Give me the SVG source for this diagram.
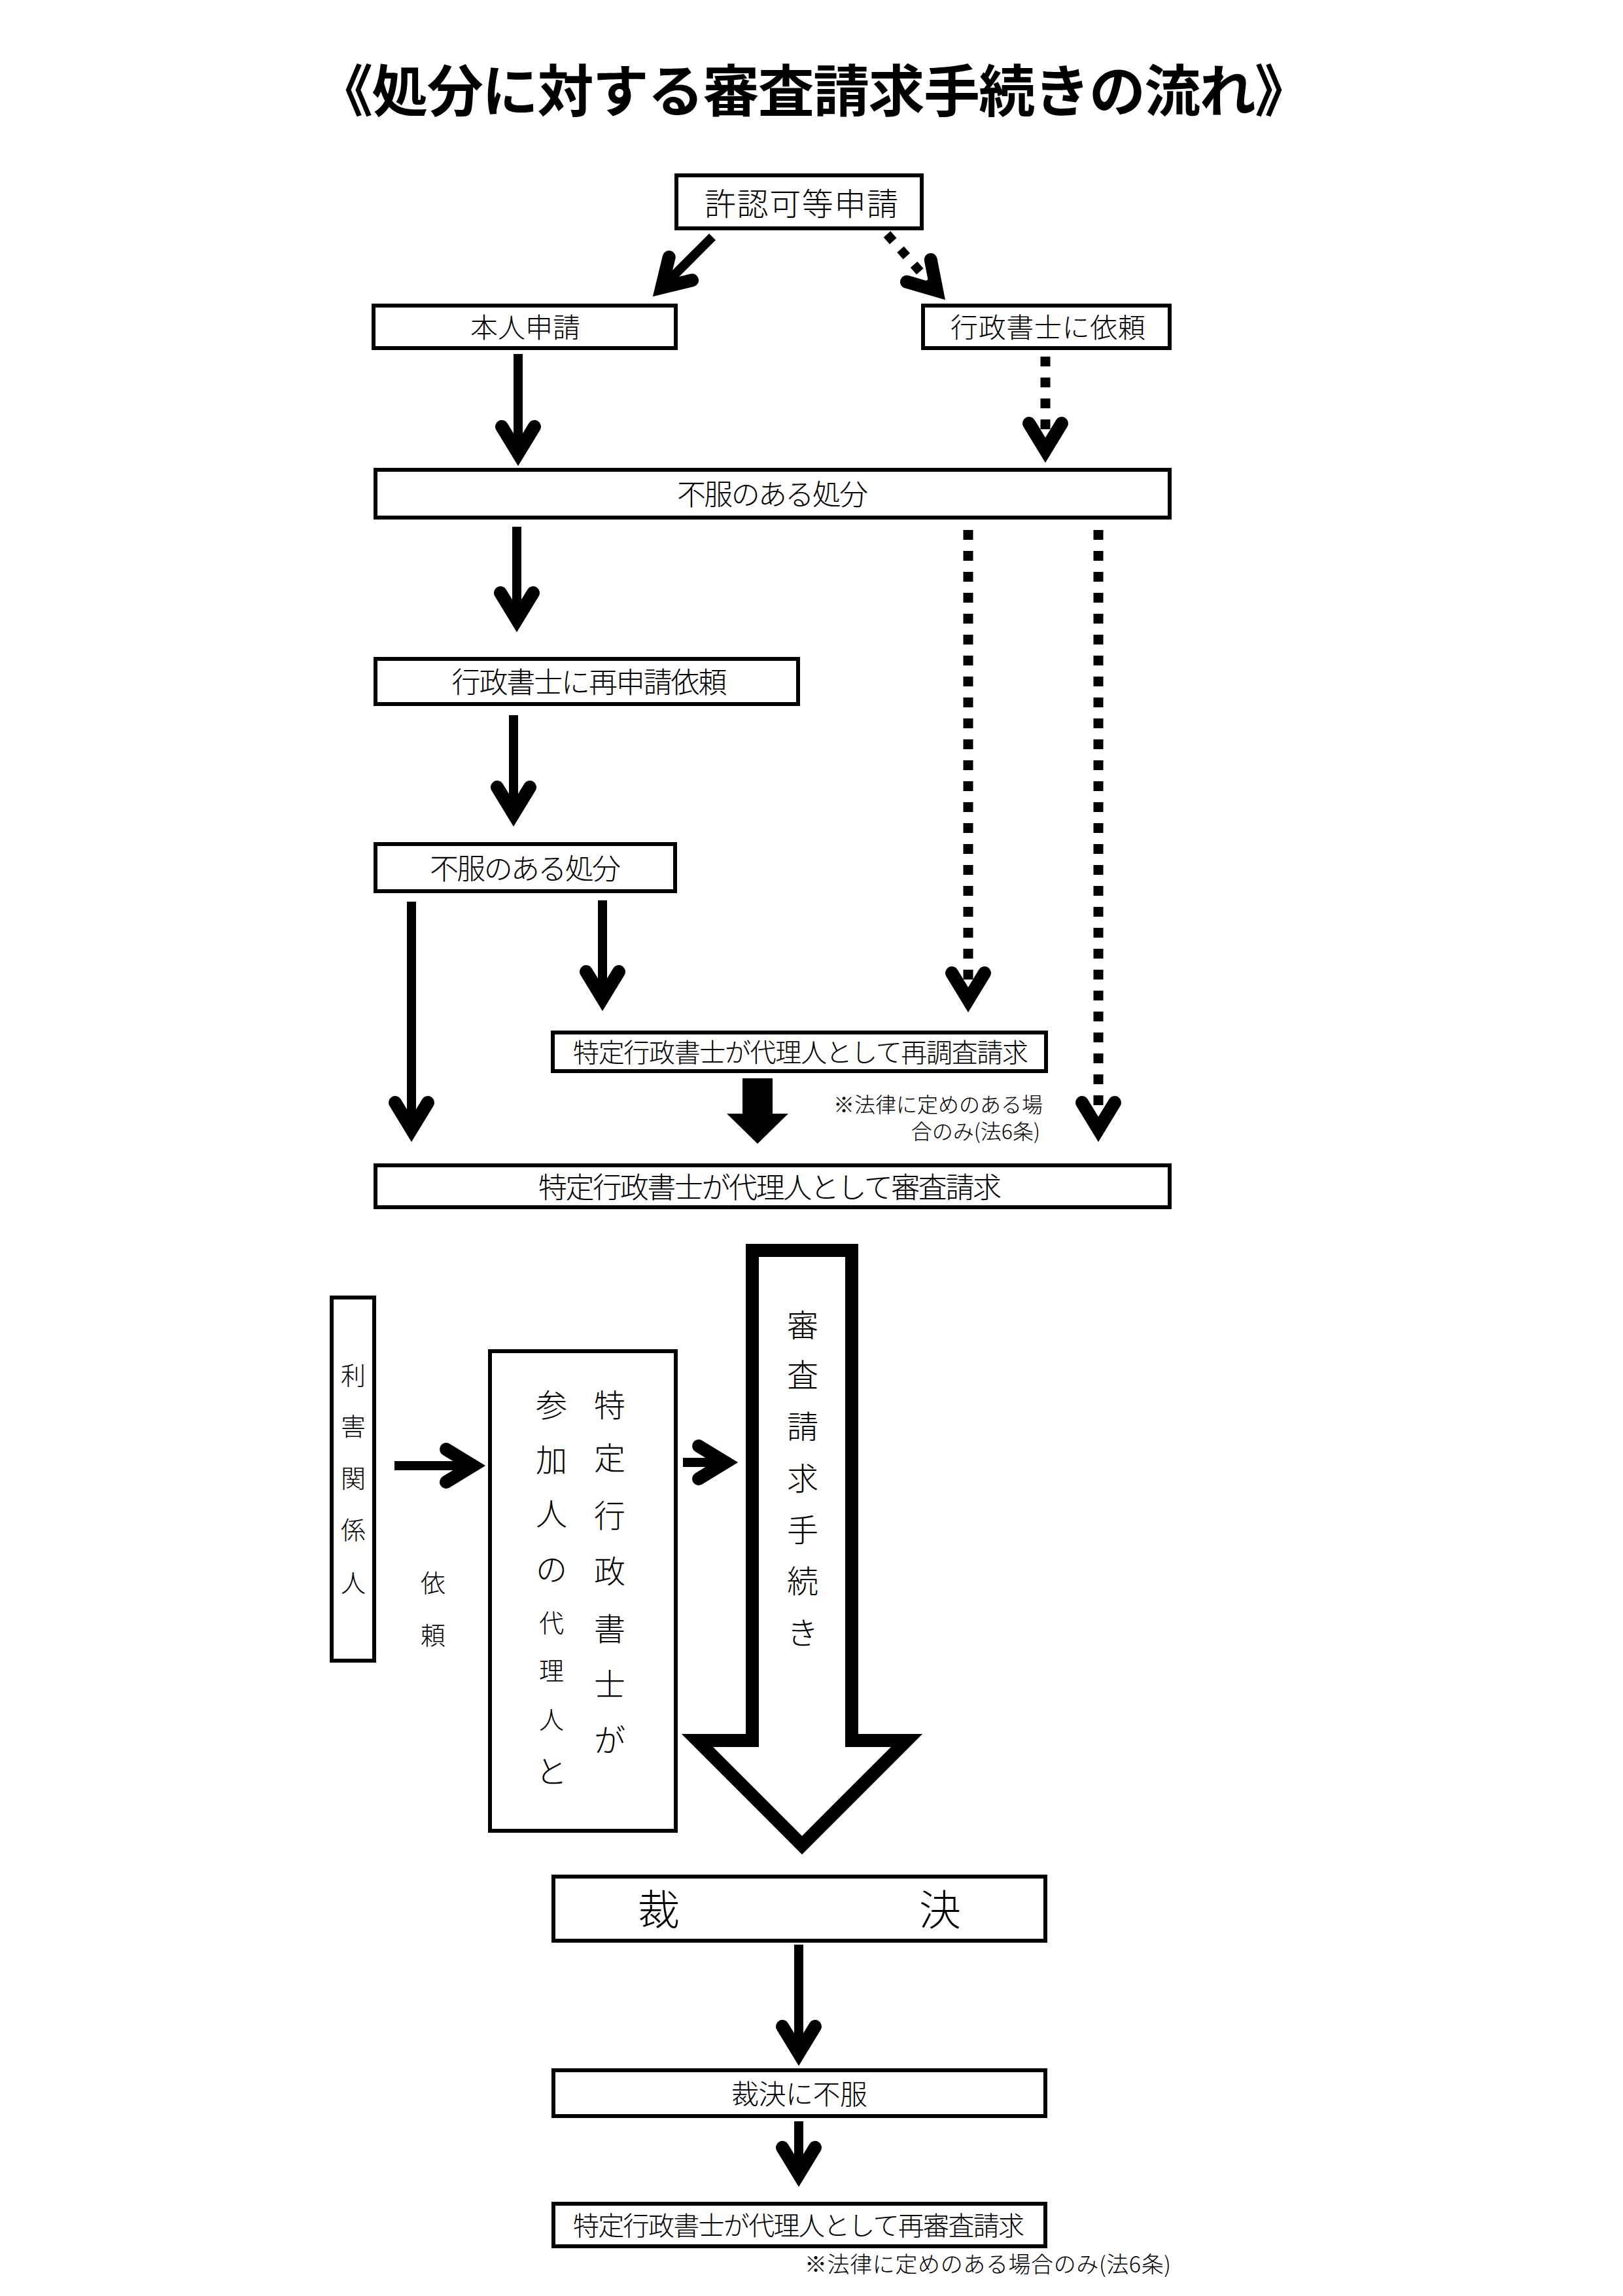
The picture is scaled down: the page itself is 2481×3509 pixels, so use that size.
<svg xmlns="http://www.w3.org/2000/svg" xmlns:xlink="http://www.w3.org/1999/xlink" width="2481" height="3509" viewBox="0 0 2481 3509">
<style>
.box{fill:#fff;stroke:#000;stroke-width:6}
.t{font-family:"Noto Sans CJK JP","Noto Sans CJK SC",sans-serif;font-weight:300;fill:#000;text-anchor:middle;dominant-baseline:central}
.title{font-family:"Noto Sans CJK JP","Noto Sans CJK SC",sans-serif;font-weight:700;fill:#000;text-anchor:middle;dominant-baseline:central}
.note{font-family:"Noto Sans CJK JP","Noto Sans CJK SC",sans-serif;font-weight:300;fill:#000;dominant-baseline:central}
.shaft{stroke:#000;stroke-width:14;fill:none}
.dash{stroke:#000;stroke-width:15;stroke-dasharray:15 17;fill:none}
.dots{stroke:#000;stroke-width:14;stroke-dasharray:14 17;fill:none}
.vh{fill:none;stroke:#000;stroke-width:20;stroke-linecap:round;stroke-linejoin:miter}
.hollow{fill:#fff;stroke:#000;stroke-width:20;stroke-linejoin:miter}
</style>
<defs>
<path id="vh" class="vh" d="M-25,-41 L0,0 L25,-41"/>
</defs>
<rect x="0" y="0" width="2481" height="3509" fill="#fff"/>

<text class="title" x="1244" y="133" font-size="86" textLength="1520" lengthAdjust="spacing">《処分に対する審査請求手続きの流れ》</text>

<g id="connectors">
  <line class="shaft" x1="1089" y1="362" x2="1011" y2="440"/>
  <use href="#vh" transform="translate(1011.4,439.6) rotate(45)"/>
  <line class="dots" x1="1356" y1="358" x2="1432" y2="444"/>
  <use href="#vh" transform="translate(1432,444) rotate(-42.5)"/>
  <line class="shaft" x1="792" y1="541" x2="792" y2="693"/>
  <use href="#vh" transform="translate(792,693)"/>
  <line class="dash" x1="1598" y1="545" x2="1598" y2="688"/>
  <use href="#vh" transform="translate(1598,688)"/>
  <line class="shaft" x1="790" y1="805" x2="790" y2="947"/>
  <use href="#vh" transform="translate(790,947)"/>
  <line class="dash" x1="1480" y1="810" x2="1480" y2="1528"/>
  <use href="#vh" transform="translate(1480,1528)"/>
  <line class="dash" x1="1679" y1="810" x2="1679" y2="1726"/>
  <use href="#vh" transform="translate(1679,1726)"/>
  <line class="shaft" x1="785" y1="1093" x2="785" y2="1244"/>
  <use href="#vh" transform="translate(785,1244)"/>
  <line class="shaft" x1="629" y1="1378" x2="629" y2="1726"/>
  <use href="#vh" transform="translate(629,1726)"/>
  <line class="shaft" x1="921" y1="1376" x2="921" y2="1526"/>
  <use href="#vh" transform="translate(921,1526)"/>
  <polygon points="1135,1648 1181,1648 1181,1702 1205,1702 1158,1748 1111,1702 1135,1702" fill="#000"/>
  <line class="shaft" x1="603" y1="2240" x2="723" y2="2240" stroke-width="15"/>
  <use href="#vh" transform="translate(723,2240) rotate(-90)"/>
  <line class="shaft" x1="1044" y1="2235" x2="1109" y2="2235" stroke-width="15"/>
  <use href="#vh" transform="translate(1109,2235) rotate(-90)"/>
  <polygon class="hollow" points="1150,1911 1302,1911 1302,2660 1386,2660 1226,2820 1066,2660 1150,2660"/>
  <line class="shaft" x1="1221" y1="2972" x2="1221" y2="3138"/>
  <use href="#vh" transform="translate(1221,3138)"/>
  <line class="shaft" x1="1221" y1="3242" x2="1221" y2="3323"/>
  <use href="#vh" transform="translate(1221,3323)"/>
</g>

<g id="n-kyoninka">
  <rect class="box" x="1034" y="268" width="375" height="81"/>
  <text class="t" x="1225" y="308" font-size="48" textLength="296" lengthAdjust="spacing">許認可等申請</text>
</g>
<g id="n-honnin">
  <rect class="box" x="571" y="467" width="462" height="65"/>
  <text class="t" x="803" y="497" font-size="42" textLength="168" lengthAdjust="spacing">本人申請</text>
</g>
<g id="n-irai">
  <rect class="box" x="1411" y="467" width="377" height="65"/>
  <text class="t" x="1602" y="497" font-size="42" textLength="298" lengthAdjust="spacing">行政書士に依頼</text>
</g>
<g id="n-fufuku1">
  <rect class="box" x="574" y="718" width="1214" height="73"/>
  <text class="t" x="1181" y="753" font-size="44" textLength="292" lengthAdjust="spacing">不服のある処分</text>
</g>
<g id="n-saishinsei">
  <rect class="box" x="574" y="1007" width="646" height="69"/>
  <text class="t" x="901" y="1040" font-size="44" textLength="421" lengthAdjust="spacing">行政書士に再申請依頼</text>
</g>
<g id="n-fufuku2">
  <rect class="box" x="574" y="1290" width="458" height="72"/>
  <text class="t" x="803" y="1325" font-size="44" textLength="292" lengthAdjust="spacing">不服のある処分</text>
</g>
<g id="n-saichousa">
  <rect class="box" x="845" y="1578" width="754" height="59"/>
  <text class="t" x="1224" y="1606" font-size="40" textLength="696" lengthAdjust="spacing">特定行政書士が代理人として再調査請求</text>
</g>
<g id="n-note1">
  <text class="note" x="1594" y="1686" font-size="32" text-anchor="end">※法律に定めのある場</text>
  <text class="note" x="1590" y="1727" font-size="32" text-anchor="end">合のみ(法6条)</text>
</g>
<g id="n-shinsa">
  <rect class="box" x="574" y="1781" width="1214" height="64"/>
  <text class="t" x="1177" y="1812" font-size="44" textLength="708" lengthAdjust="spacing">特定行政書士が代理人として審査請求</text>
</g>
<g id="n-rigai">
  <rect class="box" x="507" y="1983" width="65" height="555"/>
  <text class="t" font-size="38"><tspan x="540" y="2099">利</tspan><tspan x="540" y="2177">害</tspan><tspan x="540" y="2256">関</tspan><tspan x="540" y="2335">係</tspan><tspan x="540" y="2416">人</tspan></text>
</g>
<g id="n-irai2">
  <text class="t" font-size="38"><tspan x="662" y="2416">依</tspan><tspan x="662" y="2496">頼</tspan></text>
</g>
<g id="n-sankanin">
  <rect class="box" x="749" y="2065" width="284" height="733"/>
  <text class="t" font-size="48"><tspan x="932" y="2144">特</tspan><tspan x="932" y="2225">定</tspan><tspan x="932" y="2313">行</tspan><tspan x="932" y="2398">政</tspan><tspan x="932" y="2486">書</tspan><tspan x="932" y="2571">士</tspan><tspan x="932" y="2656">が</tspan></text>
  <text class="t" font-size="48"><tspan x="843" y="2144">参</tspan><tspan x="843" y="2228">加</tspan><tspan x="843" y="2310">人</tspan><tspan x="843" y="2395">の</tspan><tspan x="843" y="2704">と</tspan></text>
  <text class="t" font-size="38"><tspan x="843" y="2477">代</tspan><tspan x="843" y="2550">理</tspan><tspan x="843" y="2625">人</tspan></text>
</g>
<g id="n-tetsuzuki">
  <text class="t" font-size="48"><tspan x="1227" y="2022">審</tspan><tspan x="1227" y="2098">査</tspan><tspan x="1227" y="2177">請</tspan><tspan x="1227" y="2256">求</tspan><tspan x="1227" y="2335">手</tspan><tspan x="1227" y="2413">続</tspan><tspan x="1227" y="2492">き</tspan></text>
</g>
<g id="n-saiketsu">
  <rect class="box" x="846" y="2868" width="752" height="98"/>
  <text class="t" font-size="64"><tspan x="1007" y="2914">裁</tspan><tspan x="1437" y="2914">決</tspan></text>
</g>
<g id="n-fufuku3">
  <rect class="box" x="846" y="3164" width="752" height="70"/>
  <text class="t" x="1222" y="3197" font-size="42" textLength="208" lengthAdjust="spacing">裁決に不服</text>
</g>
<g id="n-saishinsa">
  <rect class="box" x="846" y="3368" width="752" height="65"/>
  <text class="t" x="1221" y="3399" font-size="40" textLength="690" lengthAdjust="spacing">特定行政書士が代理人として再審査請求</text>
</g>
<g id="n-note2">
  <text class="note" x="1230" y="3458" font-size="34" textLength="560" lengthAdjust="spacing">※法律に定めのある場合のみ(法6条)</text>
</g>
</svg>
